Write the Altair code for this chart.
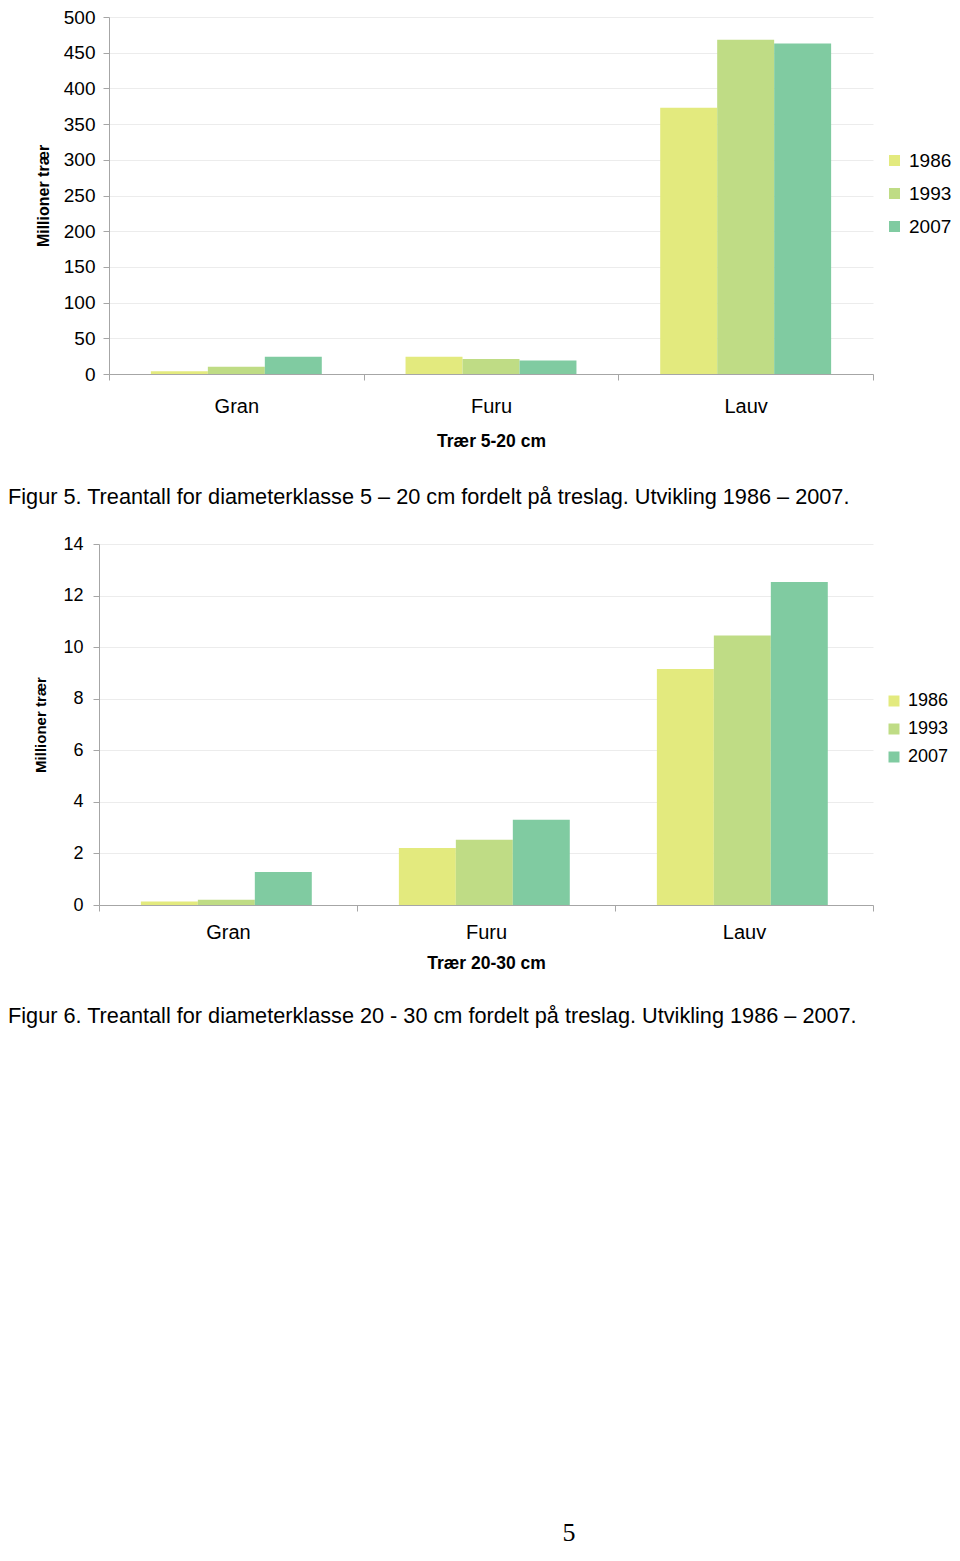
import altair as alt
import pandas as pd

FONT = "Liberation Sans"

species = ["Gran", "Furu", "Lauv"]
years = ["1986", "1993", "2007"]
colors = ["#E3EA7E", "#BFDC85", "#80CBA1"]

# Figur 5: Trær 5-20 cm (millioner)
small_1986 = [4, 24, 373]
small_1993 = [10, 21, 468]
small_2007 = [24, 19, 463]
small_ticks = [0, 50, 100, 150, 200, 250, 300, 350, 400, 450, 500]

# Figur 6: Trær 20-30 cm (millioner)
mid_1986 = [0.14, 2.21, 9.15]
mid_1993 = [0.2, 2.53, 10.45]
mid_2007 = [1.28, 3.31, 12.53]
mid_ticks = [0, 2, 4, 6, 8, 10, 12, 14]

caption1 = "Figur 5. Treantall for diameterklasse 5 \u2013 20 cm fordelt på treslag. Utvikling 1986 \u2013 2007."
caption2 = "Figur 6. Treantall for diameterklasse 20 - 30 cm fordelt på treslag. Utvikling 1986 \u2013 2007."
page_number = "5"


def long_table(series):
    rows = []
    for yr, vals in zip(years, series):
        for sp, v in zip(species, vals):
            rows.append({"Treslag": sp, "År": yr, "Verdi": v})
    return pd.DataFrame(rows)


df1 = long_table([small_1986, small_1993, small_2007])
df2 = long_table([mid_1986, mid_1993, mid_2007])

AX = "#a6a6a6"


def bar_chart(df, xtitle, ytitle, ticks, ymax, x_range, y_offset, lab, ylab_pad, ytitle_size,
              ytitle_pad, xlab_pad, xtitle_pad, group_pad, leg_y, leg_size, leg_row, height):
    xscale = dict(paddingInner=0, paddingOuter=0)
    if x_range is not None:
        xscale["range"] = x_range
    return alt.Chart(df).mark_bar(strokeWidth=0).encode(
        x=alt.X("Treslag:N", sort=species, title=xtitle,
                scale=alt.Scale(**xscale),
                axis=alt.Axis(labelAngle=0, labelFontSize=20, labelPadding=xlab_pad,
                              titleFontSize=17.5, titleFontWeight="bold",
                              titlePadding=xtitle_pad, tickBand="extent", tickSize=6,
                              domainColor=AX, tickColor=AX, labelColor="#000",
                              titleColor="#000", grid=False, labelFont=FONT,
                              titleFont=FONT)),
        xOffset=alt.XOffset("År:N", sort=years,
                            scale=alt.Scale(paddingInner=0, paddingOuter=group_pad)),
        y=alt.Y("Verdi:Q", title=ytitle,
                scale=alt.Scale(domain=[0, ymax], nice=False),
                axis=alt.Axis(values=ticks, offset=y_offset, tickSize=6, labelFontSize=lab,
                              labelPadding=ylab_pad, titleFontSize=ytitle_size,
                              titleFontWeight="bold", titlePadding=ytitle_pad,
                              gridColor="#ececec", domainColor=AX, tickColor=AX,
                              labelColor="#000", titleColor="#000", labelFont=FONT,
                              titleFont=FONT)),
        color=alt.Color("År:N", scale=alt.Scale(domain=years, range=colors),
                        legend=alt.Legend(title=None, orient="none", legendX=786,
                                          legendY=leg_y, symbolType="square",
                                          symbolSize=121, symbolStrokeWidth=0,
                                          labelFontSize=leg_size, rowPadding=leg_row,
                                          labelOffset=5, labelFont=FONT, padding=0,
                                          labelColor="#000", symbolOpacity=1)),
    ).properties(width=774, height=height)


c1 = bar_chart(df1, "Trær 5-20 cm", "Millioner trær", small_ticks, 500, [10, 774], -10,
               19, 8, 16, 12, 16, 16, 0.735, 134, 19, 13, 357)
c2 = bar_chart(df2, "Trær 20-30 cm", "Millioner trær", mid_ticks, 14, None, 0,
               18, 10, 15, 14, 11, 12, 0.75, 148, 18, 10, 361)

cap1 = alt.Chart(pd.DataFrame({"t": [caption1]})).mark_text(
    align="left", baseline="middle", fontSize=21.7, font=FONT, color="#000"
).encode(text="t:N", x=alt.value(-91), y=alt.value(123)).properties(width=774, height=170)

cap2_text = alt.Chart(pd.DataFrame({"t": [caption2]})).mark_text(
    align="left", baseline="middle", fontSize=21.7, font=FONT, color="#000"
).encode(text="t:N", x=alt.value(-91), y=alt.value(111))

page_text = alt.Chart(pd.DataFrame({"t": [page_number]})).mark_text(
    align="center", baseline="middle", fontSize=26, font="Liberation Serif", color="#000"
).encode(text="t:N", x=alt.value(470), y=alt.value(628))

cap2 = alt.layer(cap2_text, page_text).properties(width=774, height=120)

chart = alt.vconcat(c1, cap1, c2, cap2, spacing=0, bounds="flush").resolve_scale(
    color="independent", x="independent", y="independent"
).resolve_legend(color="independent").properties(
    padding={"top": 0, "left": 0, "right": 0, "bottom": 0}
).configure_view(stroke="transparent", strokeWidth=0)

chart.save("out.html", embed_options={"renderer": "svg", "actions": False})
